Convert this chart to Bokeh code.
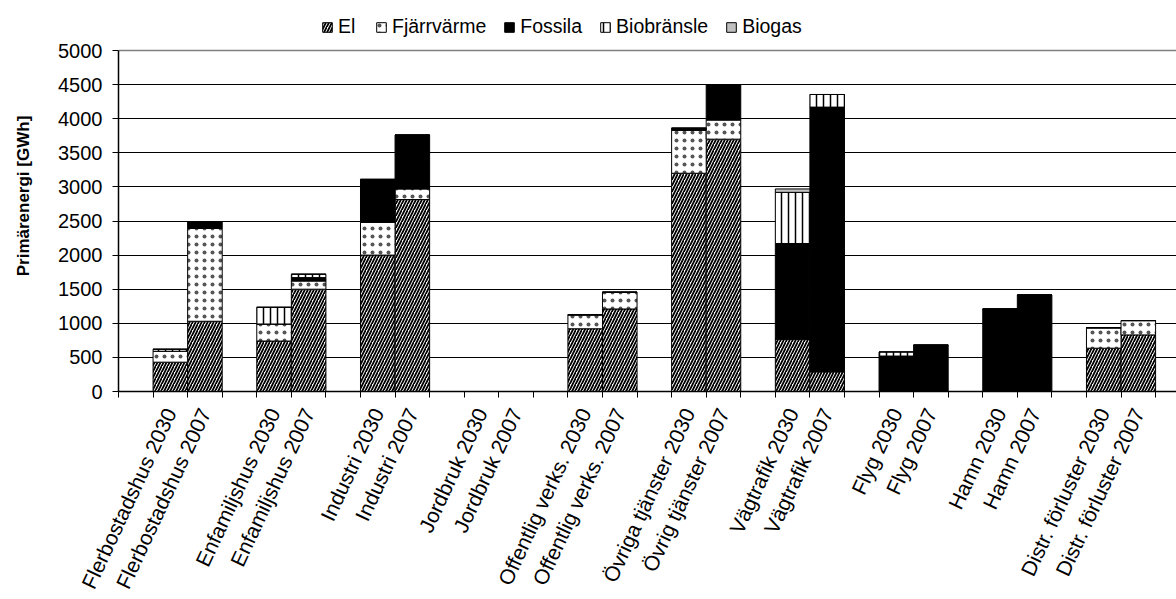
import math
from bokeh.plotting import figure
from bokeh.models import Range1d, FixedTicker, Legend, LegendItem, ColumnDataSource, Grid
from bokeh.embed import file_html
from bokeh.resources import INLINE

labels = ["Flerbostadshus 2030", "Flerbostadshus 2007",
          "Enfamiljshus 2030", "Enfamiljshus 2007",
          "Industri 2030", "Industri 2007",
          "Jordbruk 2030", "Jordbruk 2007",
          "Offentlig verks. 2030", "Offentlig verks. 2007",
          "Övriga tjänster 2030", "Övrig tjänster 2007",
          "Vägtrafik 2030", "Vägtrafik 2007",
          "Flyg 2030", "Flyg 2007",
          "Hamn 2030", "Hamn 2007",
          "Distr. förluster 2030", "Distr. förluster 2007"]

el         = [430, 1030, 740, 1500, 2000, 2815, 0, 0, 920, 1210, 3200, 3700, 770, 290, 0, 0, 0, 0, 635, 830]
fjarrvarme = [160, 1360, 250, 120, 480, 155, 0, 0, 205, 245, 630, 280, 0, 0, 0, 0, 0, 0, 300, 210]
fossila    = [0, 100, 0, 50, 630, 790, 0, 0, 0, 0, 30, 520, 1400, 3880, 520, 680, 1210, 1415, 0, 0]
biobransle = [30, 0, 245, 50, 0, 0, 0, 0, 0, 0, 0, 0, 750, 185, 60, 0, 0, 0, 0, 0]
biogas     = [0, 0, 0, 0, 0, 0, 0, 0, 0, 0, 0, 0, 50, 0, 0, 0, 0, 0, 0, 0]

series = ["El", "Fjärrvärme", "Fossila", "Biobränsle", "Biogas"]
y_ticks = [0, 500, 1000, 1500, 2000, 2500, 3000, 3500, 4000, 4500, 5000]

# category slots: one empty slot before each pair of bars
x = [3 * (i // 2) + 1.5 + (i % 2) for i in range(len(labels))]
n_slots = 3 * (len(labels) // 2)

src = ColumnDataSource(dict(x=x, El=el, **{"Fjärrvärme": fjarrvarme}, Fossila=fossila,
                            **{"Biobränsle": biobransle}, Biogas=biogas))

FONT = "Liberation Sans"
W, H = 1176, 599
left, bottom = 118, 208
plot_top_px = 50          # pixel row of the 5000 line
slot_px = 34.57
frame_h = H - bottom
y_top = y_ticks[-1] * frame_h / (frame_h - plot_top_px)

p = figure(width=W, height=H, output_backend="svg", toolbar_location=None,
           x_range=Range1d(0, (W - left) / slot_px), y_range=Range1d(0, y_top),
           min_border_left=left, min_border_right=0, min_border_top=0,
           min_border_bottom=bottom, background_fill_color="white",
           border_fill_color="white")
p.outline_line_color = None

p.xgrid.visible = False
p.ygrid.ticker = FixedTicker(ticks=y_ticks[1:-1])
p.ygrid.grid_line_color = "black"
p.ygrid.grid_line_width = 1
p.add_layout(Grid(dimension=1, ticker=FixedTicker(ticks=y_ticks[-1:]),
                  grid_line_color="#808080", grid_line_width=1.5))

rs = p.vbar_stack(series, x="x", width=1.0, source=src,
                  fill_color=["white", "white", "black", "white", "#c0c0c0"],
                  hatch_pattern=["/", ".", " ", "|", " "],
                  hatch_color=["black", "#555555", "black", "black", "black"],
                  hatch_scale=[6, 8, 12, 7, 12],
                  hatch_weight=[1.8, 0.5, 1, 1.5, 1],
                  line_color="black", line_width=1)

# x axis
xa = p.xaxis[0]
xa.ticker = FixedTicker(ticks=x, minor_ticks=list(range(0, n_slots + 1)))
xa.major_label_overrides = {xi: lab for xi, lab in zip(x, labels)}
xa.major_tick_in = 0
xa.major_tick_out = 0
xa.minor_tick_in = 0
xa.minor_tick_out = 6
xa.minor_tick_line_color = "black"
xa.axis_line_color = "black"
xa.axis_line_width = 1.5
xa.major_label_orientation = math.radians(65)
xa.major_label_standoff = 12
xa.major_label_text_font = FONT
xa.major_label_text_font_size = "21px"
xa.major_label_text_color = "black"

# y axis
ya = p.yaxis[0]
ya.ticker = FixedTicker(ticks=y_ticks)
ya.bounds = (y_ticks[0], y_ticks[-1])
ya.minor_tick_line_color = None
ya.major_tick_in = 0
ya.major_tick_out = 6
ya.major_tick_line_color = "black"
ya.axis_line_color = "black"
ya.axis_line_width = 1.5
ya.major_label_text_font = FONT
ya.major_label_text_font_size = "20px"
ya.major_label_text_color = "black"
ya.major_label_standoff = 10
ya.axis_label = "Primärenergi [GWh]"
ya.axis_label_text_font = FONT
ya.axis_label_text_font_size = "17px"
ya.axis_label_text_font_style = "bold"
ya.axis_label_text_color = "black"
ya.axis_label_standoff = 22

legend = Legend(items=[LegendItem(label=s, renderers=[r]) for s, r in zip(series, rs)],
                orientation="horizontal", location=(203, frame_h - 38),
                glyph_width=12, glyph_height=12, label_standoff=5, spacing=17,
                padding=0, margin=0, border_line_color=None,
                background_fill_alpha=0, label_text_font=FONT,
                label_text_font_size="19.5px", label_text_color="black",
                label_height=20)
p.add_layout(legend)

open("out.html", "w").write(file_html(p, INLINE))
